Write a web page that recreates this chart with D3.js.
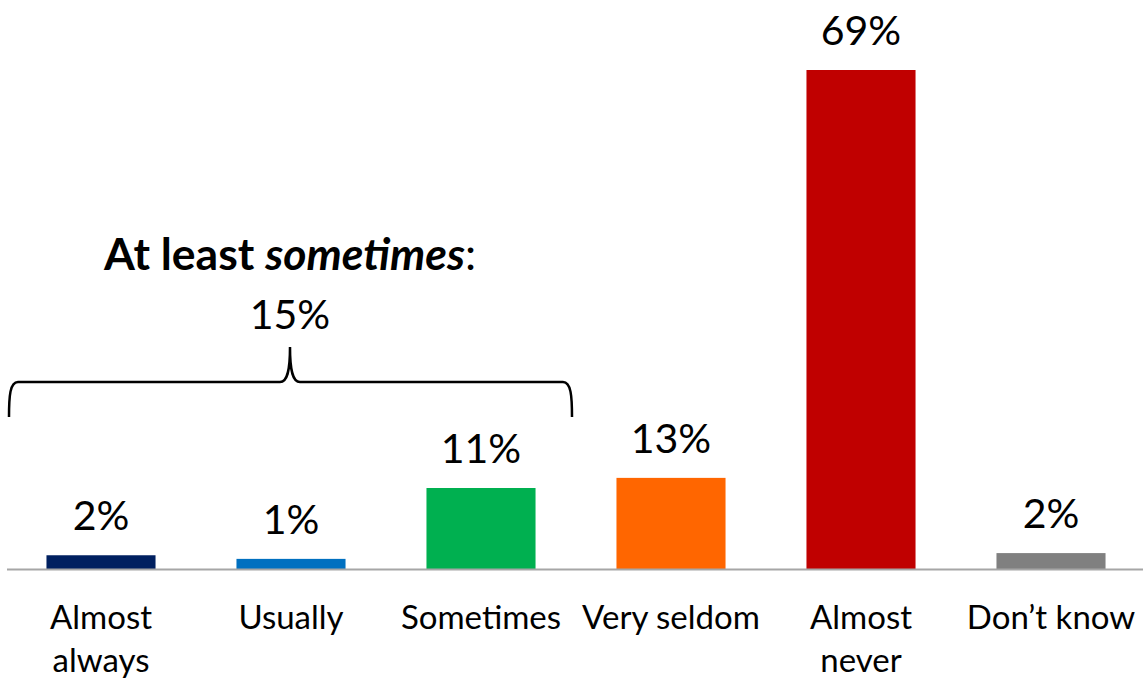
<!DOCTYPE html>
<html><head><meta charset="utf-8">
<script src="https://cdn.jsdelivr.net/npm/d3@7"></script>
<style>html,body{margin:0;padding:0;background:#fff;}svg{display:block;}</style>
</head><body>
<svg id="chart" width="1143" height="678"></svg>
<script>
const categories = ["Almost always", "Usually", "Sometimes", "Very seldom", "Almost never", "Don’t know"];
const categoryLines = [["Almost", "always"], ["Usually"], ["Sometimes"], ["Very seldom"], ["Almost", "never"], ["Don’t know"]];
const values = [1.9, 1.4, 11.2, 12.6, 69, 2.2];
const valueLabels = ["2%", "1%", "11%", "13%", "69%", "2%"];
const colors = ["#002060", "#0070C0", "#00B050", "#FF6600", "#C00000", "#808080"];
const groupTitleBold = "At least ";
const groupTitleItalic = "sometimes";
const groupValue = "15%";

const svg = d3.select("#chart");
const font = "Lato, 'Open Sans', sans-serif";
const baseY = 569;

const x = d3.scaleBand().domain(categories).range([6, 1146]).paddingInner(0.426).paddingOuter(0.213);
const y = d3.scaleLinear().domain([0, 69]).range([baseY, 70]);

svg.selectAll("rect.bar").data(categories).enter().append("rect")
  .attr("class", "bar")
  .attr("x", d => x(d))
  .attr("width", x.bandwidth())
  .attr("y", (d, i) => y(values[i]))
  .attr("height", (d, i) => y(0) - y(values[i]))
  .attr("fill", (d, i) => colors[i]);

// axis line
svg.append("line").attr("x1", 7).attr("x2", 1143).attr("y1", baseY + 0.5).attr("y2", baseY + 0.5)
  .attr("stroke", "#A6A6A6").attr("stroke-width", 2);

// value labels
svg.selectAll("text.val").data(categories).enter().append("text")
  .attr("class", "val")
  .attr("x", d => x(d) + x.bandwidth() / 2)
  .attr("y", (d, i) => y(values[i]) - 25)
  .attr("text-anchor", "middle")
  .attr("font-family", font).attr("font-size", 41).attr("fill", "#000")
  .text((d, i) => valueLabels[i]);

// category labels
const cat = svg.selectAll("text.cat").data(categories).enter().append("text")
  .attr("class", "cat")
  .attr("x", d => x(d) + x.bandwidth() / 2)
  .attr("y", 629)
  .attr("text-anchor", "middle")
  .attr("font-family", font).attr("font-size", 33).attr("fill", "#000");
cat.each(function(d, i) {
  const t = d3.select(this);
  categoryLines[i].forEach((ln, j) => {
    t.append("tspan").attr("x", x(d) + x.bandwidth() / 2).attr("dy", j === 0 ? 0 : 43).text(ln);
  });
});

// group annotation
const cx = 290;
const title = svg.append("text").attr("x", cx).attr("y", 270).attr("text-anchor", "middle")
  .attr("font-family", font).attr("font-size", 44.5).attr("fill", "#000");
title.append("tspan").attr("font-weight", "bold").text(groupTitleBold);
title.append("tspan").attr("font-weight", "bold").attr("font-style", "italic").text(groupTitleItalic);
title.append("tspan").text(":");
svg.append("text").attr("x", cx).attr("y", 329).attr("text-anchor", "middle")
  .attr("font-family", font).attr("font-size", 41).attr("fill", "#000").text(groupValue);

// brace
const bl = 9, br = 572, by = 382, bb = 417, bt = 347;
const p = d3.path();
p.moveTo(bl, bb);
p.bezierCurveTo(bl, by + 14, bl + 1, by, bl + 9, by);
p.lineTo(cx - 10, by);
p.bezierCurveTo(cx - 3, by, cx, by - 10, cx, bt);
p.bezierCurveTo(cx, by - 10, cx + 3, by, cx + 10, by);
p.lineTo(br - 9, by);
p.bezierCurveTo(br - 1, by, br, by + 14, br, bb);
svg.append("path").attr("d", p.toString()).attr("fill", "none").attr("stroke", "#000").attr("stroke-width", 2.5);
</script>
</body></html>
